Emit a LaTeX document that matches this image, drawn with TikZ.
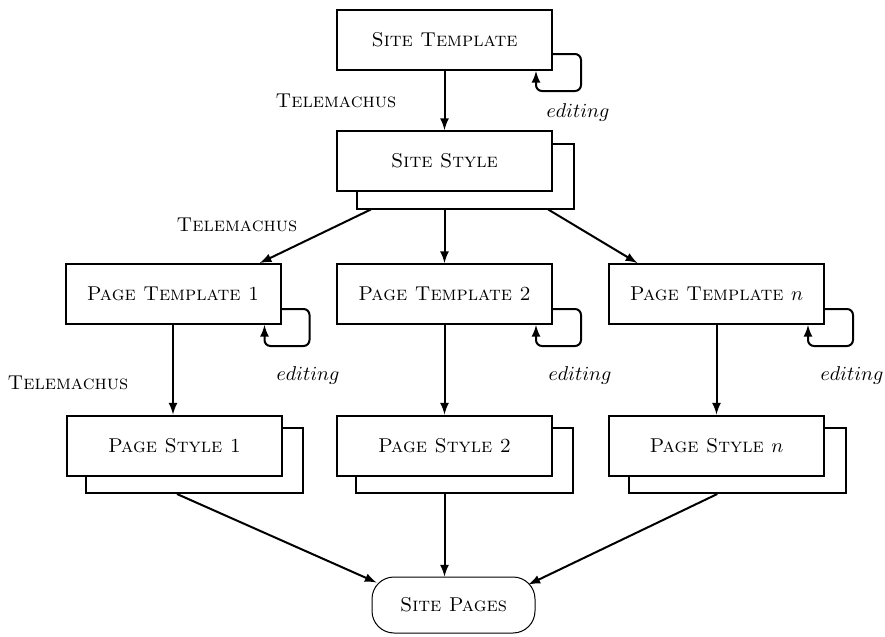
\documentclass[tikz,border=0pt]{standalone}
\usepackage{amsmath}
\usepackage{tikz}
\usetikzlibrary{calc}
\tikzset{>=latex}
\tikzset{
  box/.style={draw, line width=1pt, fill=white, inner sep=0pt,
              minimum width=107.5pt, minimum height=30pt, font=\scshape},
  backbox/.style={draw, line width=1pt, inner sep=0pt,
              minimum width=108.5pt, minimum height=32.5pt},
  pagesbox/.style={draw, line width=0.5pt, rounded corners=11pt, inner sep=0pt,
              minimum width=81.5pt, minimum height=28pt, font=\scshape},
  link/.style={->, line width=1pt},
  selfloop/.style={->, line width=1pt, rounded corners=3pt},
  tool/.style={font=\scshape},
}

\begin{document}
\begin{tikzpicture}[x=0.5pt,y=-0.5pt]
  \useasboundingbox (0,0) rectangle (885,637);

  % back copies of the style boxes
  \node[backbox] (sstyle-sh)  at (465,176)   {};
  \node[backbox] (pstyle1-sh) at (194.5,460.5) {};
  \node[backbox] (pstyle2-sh) at (464.5,460.5) {};
  \node[backbox] (pstylen-sh) at (737,460.5) {};

  % boxes
  \node[box] (stpl)    at (444.5,40)  {Site Template};
  \node[box] (sstyle)  at (444.5,161) {Site Style};
  \node[box] (ptpl1)   at (173,294)   {Page Template 1};
  \node[box] (ptpl2)   at (444.5,294) {Page Template 2};
  \node[box] (ptpln)   at (716.5,294) {Page Template $n$};
  \node[box] (pstyle1) at (174.5,445.5) {Page Style 1};
  \node[box] (pstyle2) at (444.5,445.5) {Page Style 2};
  \node[box] (pstylen) at (716.5,445.5) {Page Style $n$};
  \node[pagesbox] (pages) at (453.5,605) {Site Pages};

  % labels
  \node[tool] (tel1) at (336,101) {Telemachus};
  \node[tool] (tel2) at (237,225) {Telemachus};
  \node[tool] (tel3) at (68,383)  {Telemachus};
  \node (ed0) at (578,112) {$editing$};
  \node (ed1) at (308,375) {$editing$};
  \node (ed2) at (580,375) {$editing$};
  \node (edn) at (852,375) {$editing$};

  % arrows
  \draw[link] (stpl) -- (sstyle);
  \draw[link] ($(sstyle-sh.south west)!0.07!(sstyle-sh.south east)$)
           -- ($(ptpl1.north west)!0.9!(ptpl1.north east)$);
  \draw[link] (sstyle.south |- sstyle-sh.south) -- (ptpl2);
  \draw[link] ($(sstyle-sh.south west)!0.88!(sstyle-sh.south east)$)
           -- ($(ptpln.north west)!0.135!(ptpln.north east)$);

  \foreach \n in {1,2,n}
    \draw[link] (ptpl\n.south) -- (ptpl\n.south |- pstyle\n.north);

  \draw[link] ($(pstyle1-sh.south west)!0.42!(pstyle1-sh.south east)$)
           -- ($(pages.north west)+(5,6)$);
  \draw[link] (pstyle2.south |- pstyle2-sh.south) -- (pstyle2.south |- pages.north);
  \draw[link] ($(pstylen-sh.south west)!0.41!(pstylen-sh.south east)$)
           -- ($(pages.north east)+(-7,8)$);

  % editing loops
  \draw[selfloop] ($(stpl.east)+(0,14)$) -- ++(28,0)
        |- ($(stpl.south east)+(-17,20)$) -- ($(stpl.south east)+(-17,0)$);
  \foreach \n in {1,2,n}
    \draw[selfloop] ($(ptpl\n.east)+(0,15)$) -- ++(28,0)
          |- ($(ptpl\n.south east)+(-17,21)$) -- ($(ptpl\n.south east)+(-17,0)$);
\end{tikzpicture}
\end{document}
